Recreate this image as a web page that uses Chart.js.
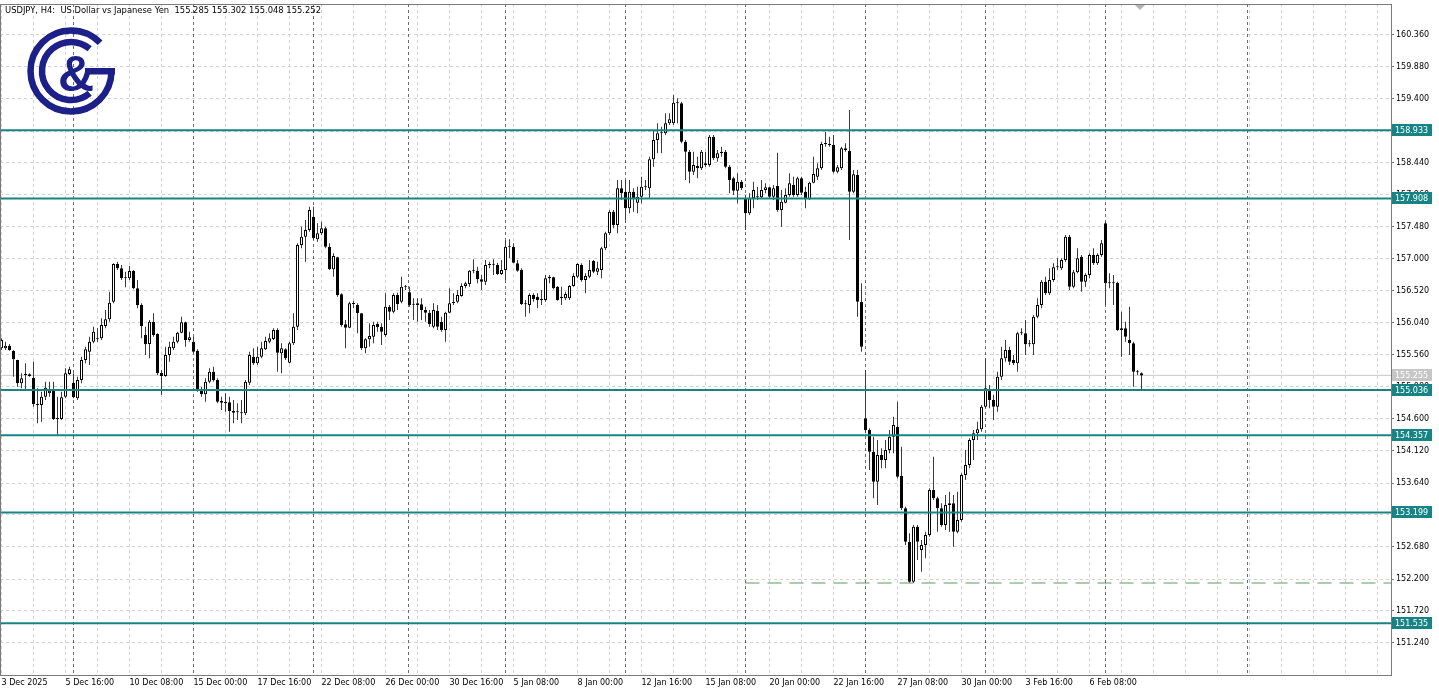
<!DOCTYPE html>
<html>
<head>
<meta charset="utf-8">
<script src="https://cdn.jsdelivr.net/npm/chart.js@4.4.1/dist/chart.umd.min.js"></script>
<style>
  html, body { margin: 0; padding: 0; background: #fff; }
</style>
</head>
<body>
<canvas id="chart" width="1439" height="692"></canvas>
<script>
// USDJPY H4 candles (bar 0 = 3 Dec 2025 00:00)
const opens = [
  155.66,155.66,155.70,155.62,155.485,155.135,155.26,155.27,155.22,154.825,
  154.81,154.935,154.985,155.02,154.60,154.60,154.935,155.275,155.145,154.91,
  155.185,155.485,155.61,155.76,155.795,155.81,155.995,156.095,156.36,156.925,
  156.86,156.71,156.71,156.82,156.56,156.31,155.86,155.725,156.06,155.875,
  155.295,155.245,155.56,155.66,155.76,155.895,156.05,155.785,155.76,155.625,
  155.045,154.97,155.16,155.31,155.185,154.87,154.86,154.85,154.72,154.70,
  154.70,154.685,155.145,155.535,155.435,155.535,155.645,155.76,155.80,155.935,
  155.585,155.645,155.445,155.735,155.985,157.21,157.335,157.435,157.635,157.295,
  157.385,157.46,157.185,156.845,157.025,156.47,156.02,155.97,156.325,156.31,
  156.185,155.66,155.795,155.835,156.025,155.985,155.86,156.285,156.21,156.46,
  156.36,156.585,156.50,156.32,156.31,156.32,156.235,156.195,155.985,156.225,
  156.06,155.935,156.195,156.335,156.36,156.445,156.595,156.625,156.825,156.825,
  156.695,156.66,156.91,156.92,156.91,156.775,156.835,157.185,157.185,156.935,
  156.835,156.325,156.31,156.46,156.435,156.385,156.385,156.71,156.725,156.585,
  156.41,156.41,156.41,156.595,156.735,156.91,156.685,156.735,156.97,156.81,
  156.835,157.16,157.385,157.71,157.51,158.06,158.01,157.76,158.01,157.845,
  157.935,158.085,158.06,158.495,158.785,158.885,158.885,159.035,159.035,159.335,
  159.335,158.76,158.61,158.31,158.395,158.36,158.435,158.41,158.835,158.51,
  158.585,158.61,158.385,158.21,158.025,158.16,157.91,157.685,157.91,157.93,
  157.925,158.035,158.075,157.935,158.095,157.735,157.845,157.96,158.11,157.96,
  158.21,158.01,157.895,158.145,158.235,158.36,158.725,158.73,158.71,158.31,
  158.36,158.66,158.625,158.01,158.26,156.36,154.61,154.435,154.11,153.66,
  154.06,153.985,154.135,154.335,154.485,153.75,153.26,152.76,152.16,152.985,
  152.635,152.71,152.86,153.535,153.41,153.26,153.01,153.31,153.335,152.91,
  153.085,153.76,153.91,154.285,154.385,154.445,154.785,155.035,154.885,154.785,
  155.235,155.51,155.635,155.485,155.435,155.885,155.885,155.72,155.72,156.135,
  156.31,156.66,156.485,156.685,156.875,156.86,156.985,157.335,156.585,156.80,
  157.035,156.66,156.76,157.06,156.935,157.06,157.535,156.635,156.635,156.645,
  155.935,155.96,155.785,155.735,155.31,155.285
];
const highs = [
  155.81,155.76,155.725,155.635,155.49,155.285,155.435,155.285,155.46,155.06,
  155.01,155.16,155.16,155.16,154.935,155.01,155.36,155.385,155.285,155.235,
  155.535,155.685,155.835,155.985,155.96,156.11,156.235,156.51,156.935,156.96,
  156.91,156.81,156.895,156.835,156.685,156.335,155.985,156.085,156.185,155.885,
  155.335,155.685,155.76,155.835,155.91,156.135,156.06,155.91,155.835,155.645,
  155.085,155.21,155.36,155.385,155.21,154.935,154.985,154.935,154.885,154.835,
  154.885,155.185,155.61,155.66,155.685,155.76,155.835,155.885,155.96,155.96,
  155.735,155.66,155.76,156.185,157.235,157.485,157.585,157.785,157.785,157.535,
  157.56,157.485,157.235,157.085,157.035,156.485,156.085,156.36,156.375,156.335,
  156.185,155.81,156.035,156.06,156.06,156.035,156.485,156.31,156.485,156.495,
  156.735,156.61,156.585,156.41,156.41,156.41,156.285,156.235,156.335,156.31,
  156.135,156.21,156.56,156.485,156.535,156.635,156.66,156.835,156.995,156.885,
  156.76,156.985,156.96,156.995,156.945,156.985,157.285,157.295,157.235,156.985,
  156.86,156.385,156.485,156.485,156.485,156.535,156.76,156.76,156.735,156.595,
  156.585,156.51,156.61,156.785,156.935,156.935,156.785,156.985,156.985,156.96,
  157.185,157.41,157.735,157.735,158.185,158.185,158.185,158.185,158.06,158.085,
  158.235,158.185,158.535,158.935,159.035,158.985,159.185,159.185,159.46,159.41,
  159.36,158.785,158.635,158.61,158.535,158.635,158.61,158.86,158.86,158.635,
  158.685,158.635,158.41,158.235,158.285,158.185,157.96,157.985,158.16,158.085,
  158.185,158.135,158.085,158.11,158.595,158.035,158.06,158.285,158.235,158.235,
  158.235,158.085,158.16,158.535,158.435,158.76,158.91,158.835,158.86,158.41,
  158.685,158.735,159.235,158.335,158.335,156.635,155.335,154.46,154.335,154.285,
  154.16,154.285,154.435,154.635,154.86,154.185,153.285,152.885,153.01,153.01,
  152.785,152.91,153.56,154.035,153.435,153.335,153.46,153.51,153.46,153.51,
  153.785,154.135,154.31,154.435,154.56,154.81,155.51,155.11,154.96,155.31,
  155.685,155.785,155.685,155.56,155.91,155.96,156.085,155.785,156.16,156.41,
  156.685,156.735,156.86,156.935,157.01,157.01,157.36,157.36,156.835,157.16,
  157.06,156.785,157.085,157.16,157.085,157.285,157.56,156.785,156.76,156.66,
  156.21,156.06,156.285,155.76,155.335,155.302
];
const lows = [
  155.635,155.635,155.625,155.235,155.085,155.06,155.035,155.235,154.785,154.535,
  154.56,154.885,154.935,154.585,154.36,154.585,154.91,155.26,154.91,154.885,
  155.135,155.435,155.41,155.735,155.76,155.785,155.96,156.06,156.335,156.835,
  156.685,156.575,156.685,156.545,156.26,155.81,155.56,155.51,155.835,155.26,
  154.96,155.235,155.46,155.635,155.735,155.885,155.685,155.76,155.585,155.01,
  154.935,154.86,155.135,155.16,154.835,154.735,154.71,154.41,154.535,154.585,
  154.535,154.66,155.11,155.41,155.41,155.51,155.635,155.735,155.785,155.31,
  155.285,155.485,155.435,155.71,155.935,157.16,156.96,157.41,157.285,157.26,
  157.36,157.16,156.835,156.735,156.435,155.985,155.66,155.96,156.26,155.885,
  155.635,155.585,155.685,155.735,155.91,155.71,155.835,156.085,156.185,156.235,
  156.335,156.535,156.285,156.085,156.06,156.085,156.06,155.985,155.96,155.935,
  155.91,155.76,156.185,156.31,156.335,156.435,156.56,156.585,156.785,156.635,
  156.535,156.61,156.86,156.76,156.76,156.76,156.685,157.01,156.935,156.81,
  156.31,156.135,156.185,156.36,156.26,156.31,156.36,156.635,156.545,156.375,
  156.31,156.385,156.385,156.585,156.71,156.66,156.485,156.71,156.785,156.76,
  156.71,157.135,157.36,157.46,157.385,157.885,157.585,157.685,157.71,157.685,
  157.835,158.035,157.91,158.385,158.585,158.585,158.86,159.01,159.01,159.035,
  158.735,158.185,158.135,158.26,158.21,158.335,158.385,158.385,158.485,158.46,
  158.535,158.36,157.985,157.96,157.835,158.035,157.435,157.66,157.76,157.885,
  157.91,157.985,157.91,157.885,157.71,157.485,157.835,157.935,157.935,157.935,
  157.96,157.76,157.885,158.135,158.185,158.335,158.685,158.685,158.285,158.285,
  158.335,158.61,157.285,157.985,156.135,155.61,154.385,153.835,153.41,153.31,
  153.86,153.86,154.085,154.085,153.71,153.235,152.71,152.14,152.14,152.485,
  152.31,152.51,152.835,153.385,152.91,152.985,152.935,152.91,152.685,152.885,
  153.06,153.685,153.86,153.985,154.285,154.41,154.76,154.76,154.585,154.71,
  155.185,155.46,155.41,155.41,155.31,155.86,155.56,155.685,155.56,156.11,
  156.26,156.46,156.46,156.66,156.835,156.835,156.96,156.535,156.56,156.785,
  156.51,156.585,156.71,156.91,156.91,157.035,156.31,156.56,156.31,155.92,
  155.535,155.76,155.56,155.085,155.26,155.048
];
const closes = [
  155.785,155.70,155.635,155.495,155.135,155.21,155.275,155.245,154.825,154.81,
  154.935,155.07,155.025,154.60,154.605,154.925,155.285,155.345,154.925,155.185,
  155.485,155.645,155.76,155.91,155.80,156.01,156.095,156.345,156.925,156.86,
  156.71,156.715,156.82,156.56,156.31,155.995,155.72,156.06,155.86,155.285,
  155.245,155.56,155.685,155.76,155.895,156.05,155.785,155.825,155.61,155.045,
  154.97,155.16,155.31,155.185,154.86,154.845,154.835,154.72,154.695,154.70,
  154.685,155.16,155.56,155.435,155.535,155.66,155.77,155.81,155.935,155.595,
  155.66,155.51,155.735,155.985,157.21,157.335,157.435,157.735,157.31,157.385,
  157.46,157.185,156.845,157.045,156.46,156.01,155.97,156.335,156.335,156.185,
  155.66,155.795,155.845,156.01,155.975,155.91,156.285,156.21,156.46,156.325,
  156.585,156.59,156.31,156.315,156.335,156.235,156.195,156.025,156.235,155.985,
  155.935,156.195,156.335,156.36,156.46,156.595,156.635,156.825,156.835,156.695,
  156.66,156.91,156.92,156.915,156.775,156.835,157.185,157.195,156.945,156.825,
  156.325,156.32,156.46,156.40,156.385,156.39,156.71,156.735,156.56,156.385,
  156.435,156.475,156.595,156.745,156.925,156.685,156.745,156.835,156.81,156.86,
  157.16,157.385,157.71,157.51,158.06,157.985,157.76,158.01,157.91,157.935,
  158.085,158.09,158.495,158.785,158.885,158.895,159.035,159.095,159.345,159.345,
  158.76,158.61,158.31,158.41,158.36,158.61,158.41,158.835,158.51,158.585,
  158.61,158.385,158.185,158.025,158.16,158.06,157.685,157.91,158.035,157.925,
  158.035,158.075,157.935,158.06,157.735,157.86,157.96,158.135,157.96,158.21,
  157.995,157.895,158.145,158.275,158.36,158.725,158.73,158.71,158.31,158.375,
  158.66,158.635,158.01,158.27,156.36,155.685,154.435,154.11,153.66,154.06,
  153.985,154.135,154.335,154.51,153.735,153.26,152.76,152.16,152.985,152.76,
  152.71,152.86,153.535,153.41,153.26,153.01,153.31,153.335,152.91,153.085,
  153.76,153.91,154.285,154.385,154.445,154.785,155.06,154.885,154.785,155.235,
  155.51,155.635,155.46,155.435,155.885,155.89,155.72,155.735,156.135,156.31,
  156.66,156.485,156.685,156.875,156.88,156.985,157.335,156.585,156.80,157.01,
  156.66,156.76,157.06,156.935,157.06,157.235,156.635,156.64,156.65,155.935,
  155.96,155.835,155.735,155.31,155.30,155.252
];

// one time label every 16 bars
const timeLabels = [
  '3 Dec 2025','5 Dec 16:00','10 Dec 08:00','15 Dec 00:00','17 Dec 16:00','22 Dec 08:00',
  '26 Dec 00:00','30 Dec 16:00','5 Jan 08:00','8 Jan 00:00','12 Jan 16:00','15 Jan 08:00',
  '20 Jan 00:00','22 Jan 16:00','27 Jan 08:00','30 Jan 00:00','3 Feb 16:00','6 Feb 08:00'
];
const priceTicks = [151.24,151.72,152.20,152.68,153.16,153.64,154.12,154.60,155.08,155.56,
  156.04,156.52,157.00,157.48,157.96,158.44,158.92,159.40,159.88,160.36];
const levels = [158.933, 157.908, 155.036, 154.357, 153.199, 151.535];
const bidPrice = 155.255;
const lowMark = 152.14;
const lowMarkFrom = 186;
// monday bars (week separators)
const separators = [18, 48, 78, 102, 126, 156, 186, 216, 246, 276, 311.6];

const X_MIN = -0.375, X_MAX = 347.375;
const TEAL = '#168484';
const FONT = "'DejaVu Sans', Verdana, sans-serif";

const wicks = opens.map((o, i) => ({x: i, y: [lows[i], highs[i]]}));
const bodies = opens.map((o, i) => {
  let lo = Math.min(o, closes[i]), hi = Math.max(o, closes[i]);
  if (hi - lo < 0.015) hi = lo + 0.015;
  return {x: i, y: [lo, hi]};
});
const bodyFill = opens.map((o, i) => closes[i] > o ? '#ffffff' : '#000000');
const gridBars = [];
for (let b = 0; b <= 344; b += 8) gridBars.push(b);

const levelSets = levels.map(v => ({
  type: 'line', data: [{x: X_MIN, y: v}, {x: X_MAX, y: v}],
  borderColor: TEAL, borderWidth: 2, pointRadius: 0, order: 1
}));

const overlay = {
  id: 'overlay',
  beforeDatasetsDraw(chart) {
    const {ctx, chartArea: a, scales: {x}} = chart;
    ctx.save();
    ctx.strokeStyle = '#6a6a6a';
    ctx.lineWidth = 1;
    ctx.setLineDash([3, 3]);
    separators.forEach(b => {
      const px = Math.round(x.getPixelForValue(b)) - 0.5;
      ctx.beginPath(); ctx.moveTo(px, a.top); ctx.lineTo(px, a.bottom); ctx.stroke();
    });
    ctx.restore();
  },
  afterDraw(chart) {
    const {ctx, chartArea: a, scales: {y}} = chart;
    ctx.save();
    // frame
    ctx.strokeStyle = '#7a7a7a';
    ctx.lineWidth = 1;
    ctx.strokeRect(a.left + 0.5, a.top + 0.5, a.right - a.left, a.bottom - a.top);

    // price boxes on the right scale
    ctx.font = '8px ' + FONT;
    ctx.textBaseline = 'middle';
    ctx.textAlign = 'left';
    const box = (v, bg) => {
      const py = y.getPixelForValue(v);
      ctx.fillStyle = bg;
      ctx.fillRect(a.right + 1, Math.round(py) - 6, 40, 12);
      ctx.fillStyle = '#ffffff';
      ctx.fillText(v.toFixed(3), a.right + 4, Math.round(py) + 0.5);
    };
    box(bidPrice, '#c6c6c6');
    levels.forEach(v => box(v, TEAL));

    // title
    ctx.fillStyle = '#000';
    ctx.font = '8.4px ' + FONT;
    ctx.fillText('USDJPY, H4:  US Dollar vs Japanese Yen  155.285 155.302 155.048 155.252', 5, 11);

    // shift marker
    ctx.fillStyle = '#b4b4b4';
    ctx.beginPath(); ctx.moveTo(1135, 5); ctx.lineTo(1145, 5); ctx.lineTo(1140, 10); ctx.closePath(); ctx.fill();

    // logo
    const navy = '#1c2088', cx = 71, cy = 71, d = Math.PI / 180;
    ctx.strokeStyle = navy; ctx.fillStyle = navy;
    ctx.lineWidth = 6.5;
    ctx.beginPath(); ctx.arc(cx, cy, 40.5, 0, 316 * d); ctx.stroke();
    ctx.beginPath(); ctx.arc(cx, cy, 29, 50 * d, 310 * d); ctx.stroke();
    ctx.fillRect(85, 68, 30, 6.5);
    ctx.font = "bold 50px 'Liberation Sans', Arial, sans-serif";
    ctx.textAlign = 'center';
    ctx.textBaseline = 'alphabetic';
    ctx.fillText('&', 76, 91);
    ctx.restore();
  }
};

new Chart(document.getElementById('chart'), {
  type: 'bar',
  data: {
    datasets: [
      {type: 'line', data: [{x: X_MIN, y: bidPrice}, {x: X_MAX, y: bidPrice}],
       borderColor: '#c8c8c8', borderWidth: 1, pointRadius: 0, order: 5},
      {type: 'bar', data: wicks, backgroundColor: '#3c3c3c', barThickness: 1,
       grouped: false, borderWidth: 0, inflateAmount: 0, order: 4},
      {type: 'bar', data: bodies, backgroundColor: bodyFill, borderColor: '#000000',
       borderWidth: 1, borderSkipped: false, barThickness: 3, grouped: false,
       inflateAmount: 0, order: 3},
      {type: 'line', data: [{x: lowMarkFrom, y: lowMark}, {x: X_MAX, y: lowMark}],
       borderColor: '#5a9a5a', borderWidth: 1, borderDash: [14, 8], pointRadius: 0, order: 2},
      ...levelSets
    ]
  },
  options: {
    responsive: false,
    animation: false,
    devicePixelRatio: 1,
    layout: {padding: {top: 4, left: 0, right: 0, bottom: 0}},
    plugins: {legend: {display: false}, tooltip: {enabled: false}},
    scales: {
      x: {
        type: 'linear', min: X_MIN, max: X_MAX, offset: false,
        afterBuildTicks: s => { s.ticks = gridBars.map(v => ({value: v})); },
        afterFit: s => { s.height = 17; s.paddingLeft = 0; s.paddingRight = 0; },
        grid: {color: '#d2d2d2', drawTicks: false, offset: false},
        border: {display: false, dash: [3, 3]},
        ticks: {
          autoSkip: false, maxRotation: 0, align: 'start', padding: 3,
          color: '#000', font: {family: FONT, size: 8},
          callback: v => (v % 16 === 0 && timeLabels[v / 16]) ? timeLabels[v / 16] : ''
        }
      },
      y: {
        type: 'linear', position: 'right', min: 150.76, max: 160.825,
        afterBuildTicks: s => { s.ticks = priceTicks.map(v => ({value: v})); },
        afterFit: s => { s.width = 48; s.paddingTop = 0; s.paddingBottom = 0; },
        grid: {color: '#d2d2d2', tickLength: 3, tickColor: '#7a7a7a', tickBorderDash: []},
        border: {display: false, dash: [3, 3]},
        ticks: {
          padding: 2, color: '#000', font: {family: FONT, size: 8},
          callback: v => v.toFixed(3)
        }
      }
    }
  },
  plugins: [overlay]
});
</script>
</body>
</html>
